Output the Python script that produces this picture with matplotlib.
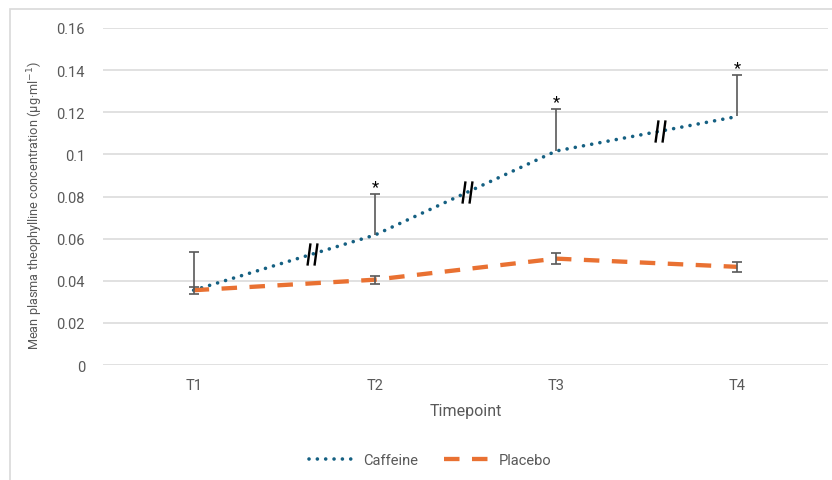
import numpy as np
import matplotlib.pyplot as plt
from matplotlib.path import Path
from matplotlib.patches import Rectangle
from matplotlib.lines import Line2D

plt.rcParams['font.family'] = ['Roboto', 'DejaVu Sans']

# mean plasma theophylline concentration (ug/ml) at each timepoint
timepoints = ['T1', 'T2', 'T3', 'T4']
caffeine = [0.0355, 0.0617, 0.1016, 0.118]
caffeine_err = [0.018, 0.0195, 0.020, 0.0197]
placebo = [0.0355, 0.0405, 0.0505, 0.0466]
placebo_err = [0.0017, 0.0019, 0.0027, 0.0023]
significant = [False, True, True, True]
# where the axis-break marks sit along the caffeine line (category units)
break_x = [1.654, 2.51, 3.575]

BLUE = '#156082'
ORANGE = '#E97132'
GREY = '#595959'

x = np.arange(1, len(timepoints) + 1)

fig = plt.figure(figsize=(8.32, 4.81), dpi=100)
ax = fig.add_axes([103 / 832, 1 - 366 / 481, 725 / 832, 337 / 481])

ax.set_ylim(0, 0.16)
ax.set_xlim(0.5, 4.5)
ax.set_yticks(np.arange(0, 0.161, 0.02))
ax.set_yticklabels(['0', '0.02', '0.04', '0.06', '0.08', '0.1', '0.12', '0.14', '0.16'])
ax.set_xticks(x)
ax.set_xticklabels(timepoints)
ax.grid(axis='y', color='#D9D9D9', linewidth=1.1)
ax.set_axisbelow(True)
for s in ax.spines.values():
    s.set_visible(False)
ax.tick_params(length=0, colors=GREY, labelsize=10.5)
ax.tick_params(axis='y', pad=13)
ax.tick_params(axis='x', pad=9)

dots = (0, (0.01, 2.3))
dashes = (0, (3.6, 2.9))
ax.plot(x, caffeine, color=BLUE, linewidth=2.6, linestyle=dots,
        dash_capstyle='round', zorder=3)
ax.plot(x, placebo, color=ORANGE, linewidth=3.1, linestyle=dashes, zorder=3)

# caffeine: upper bar only, cap at the top
top = np.array(caffeine) + np.array(caffeine_err)
ax.vlines(x, caffeine, top, color=GREY, linewidth=1.2, zorder=4)
ax.plot(x, top, linestyle='none', marker='_', markersize=7,
        markeredgewidth=1.2, color=GREY, zorder=4)
ax.errorbar(x, placebo, yerr=placebo_err, fmt='none',
            ecolor=GREY, elinewidth=1.2, capsize=3.5, capthick=1.2, zorder=4)

for xi, yi, sig in zip(x, top, significant):
    if sig:
        ax.annotate('*', (xi, yi), xytext=(0, 0), textcoords='offset points',
                    ha='center', va='bottom', fontsize=12, color='black')

# break marks drawn as a two-stroke marker
brk = Path([(-0.45, -1), (-0.18, 1), (0.18, -1), (0.45, 1)],
           [Path.MOVETO, Path.LINETO, Path.MOVETO, Path.LINETO])
by = np.interp(break_x, x, caffeine)
ax.plot(break_x, by, linestyle='none', marker=brk, markersize=16,
        markeredgecolor='black', markeredgewidth=1.7, zorder=5)

ax.set_xlabel('Timepoint', fontsize=11.5, color=GREY, labelpad=8)
ax.set_ylabel('Mean plasma theophylline concentration (µg·ml$^{-1}$)', fontsize=9.2,
              color=GREY, labelpad=10)
ax.yaxis.set_label_coords(-0.08, 0.475)

handles = [Line2D([], [], color=BLUE, linewidth=2.6, linestyle=dots, dash_capstyle='round'),
           Line2D([], [], color=ORANGE, linewidth=3.1, linestyle=dashes)]
fig.legend(handles, ['Caffeine', 'Placebo'], loc='center', bbox_to_anchor=(0.517, 1 - 461 / 481),
           ncol=2, frameon=False, fontsize=10.5, labelcolor=GREY, handlelength=3.2,
           columnspacing=1.8, handletextpad=0.5)

# chart frame
fig.patches.append(Rectangle((10 / 832, -0.1), 1.2, 1.1 - 10 / 481, transform=fig.transFigure,
                             fill=False, edgecolor='#D9D9D9', linewidth=1.2))

fig.savefig('out.png', dpi=100)
